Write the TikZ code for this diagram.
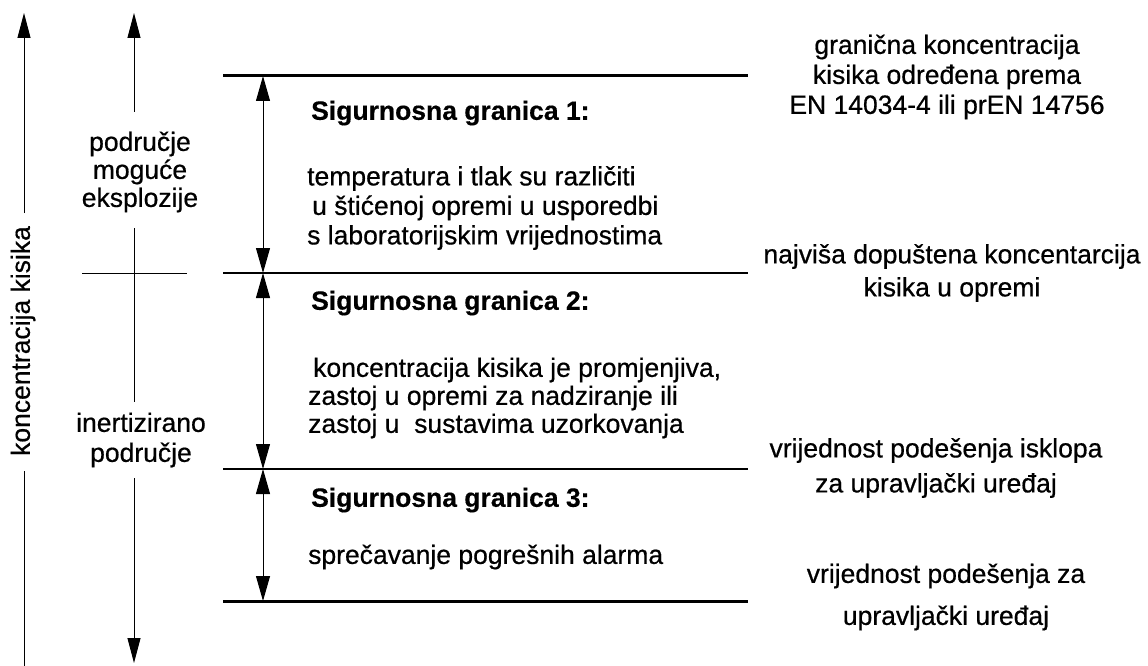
\documentclass[tikz,border=0pt]{standalone}
\usepackage{fontspec}
\setmainfont{Liberation Sans}[UprightFeatures={FakeBold=0.6}, BoldFeatures={FakeBold=0.4}]
\usetikzlibrary{arrows.meta}
\begin{document}
\begin{tikzpicture}[x=1pt,y=-1pt,
  txt/.style={font=\fontsize{26.5}{29.5}\selectfont, inner sep=0pt},
  ttl/.style={font=\fontsize{26.5}{29.5}\selectfont\bfseries, inner sep=0pt},
  thickline/.style={line width=3pt},
  thinline/.style={line width=1.5pt},
  axis/.style={line width=1pt},
  tip/.style={-{Triangle[length=25pt,width=13pt]}},
  dim/.style={line width=1pt, {Triangle[length=25pt,width=14pt]}-{Triangle[length=25pt,width=14pt]}}
]
\useasboundingbox (0,0) rectangle (1148,666);
% left axis
\coordinate (a1top) at (24,13);
\coordinate (a1b) at (24,213);
\coordinate (a1c) at (24,471);
\coordinate (a1end) at (24,666);
\node[txt, rotate=90] (klab) at (23,341) {koncentracija kisika};
\draw[axis,tip] (a1b) -- (a1top);
\draw[axis] (a1c) -- (a1end);
% second axis
\coordinate (a2top) at (134,13);
\coordinate (a2b) at (134,112);
\coordinate (a2c) at (134,228);
\coordinate (a2d) at (134,402);
\coordinate (a2e) at (134,478);
\coordinate (a2bot) at (134,663);
\coordinate (h0l) at (82,273);
\coordinate (h0r) at (187,273);
\draw[axis,tip] (a2b) -- (a2top);
\draw[axis] (a2c) -- (a2d);
\draw[axis,tip] (a2e) -- (a2bot);
\draw[axis] (h0l) -- (h0r);
\node[txt, align=center, font=\fontsize{26.5}{28}\selectfont] (zone1) at (140,172) {područje\\moguće\\eksplozije};
\node[txt, align=center, font=\fontsize{26.5}{30}\selectfont] (zone2) at (141,440) {inertizirano\\područje};
% horizontal levels
\coordinate (L1l) at (223,76);  \coordinate (L1r) at (748,76);
\coordinate (L2l) at (223,273); \coordinate (L2r) at (748,273);
\coordinate (L3l) at (223,469); \coordinate (L3r) at (748,469);
\coordinate (L4l) at (223,601); \coordinate (L4r) at (748,601);
\draw[thickline] (L1l) -- (L1r);
\draw[thinline] (L2l) -- (L2r);
\draw[thinline] (L3l) -- (L3r);
\draw[thickline] (L4l) -- (L4r);
% dimension arrows
\coordinate (d1) at (263,76);
\coordinate (d2) at (263,273);
\coordinate (d3) at (263,469);
\coordinate (d4) at (263,601);
\draw[dim] (d1) -- (d2);
\draw[dim] (d2) -- (d3);
\draw[dim] (d3) -- (d4);
% middle texts
\node[ttl, anchor=west] (t1) at (311,113) {Sigurnosna granica 1:};
\node[txt, anchor=west, align=left] (b1) at (307,208) {temperatura i tlak su različiti\\\hspace*{5pt}u štićenoj opremi u usporedbi\\s laboratorijskim vrijednostima};
\node[ttl, anchor=west] (t2) at (311,303) {Sigurnosna granica 2:};
\node[txt, anchor=west, align=left, font=\fontsize{26.5}{28}\selectfont] (b2) at (308,398) {\hspace*{5pt}koncentracija kisika je promjenjiva,\\zastoj u opremi za nadziranje ili\\zastoj u\ \ sustavima uzorkovanja};
\node[ttl, anchor=west] (t3) at (311,500) {Sigurnosna granica 3:};
\node[txt, anchor=west] (b3) at (308,557) {sprečavanje pogrešnih alarma};
% right texts
\node[txt, align=center, font=\fontsize{26.5}{30}\selectfont] (r1) at (947,77) {granična koncentracija\\kisika određena prema\\EN 14034-4 ili prEN 14756};
\node[txt, align=center, font=\fontsize{26.5}{33}\selectfont] (r2) at (952,273) {najviša dopuštena koncentarcija\\kisika u opremi};
\node[txt, align=center, font=\fontsize{26.5}{35}\selectfont] (r3) at (936,468) {vrijednost podešenja isklopa\\za upravljački uređaj};
\node[txt, align=center, font=\fontsize{26.5}{42}\selectfont] (r4) at (946,597) {vrijednost podešenja za\\upravljački uređaj};
\end{tikzpicture}
\end{document}
